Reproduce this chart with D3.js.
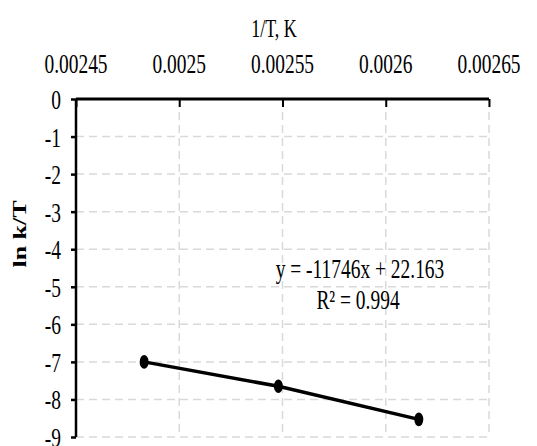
<!DOCTYPE html>
<html><head><meta charset="utf-8">
<script src="https://cdn.jsdelivr.net/npm/d3@7"></script>
<style>body{margin:0;background:#fff}svg{display:block}text{font-family:"Liberation Serif","Times New Roman",serif;fill:#000}</style>
</head><body><svg id="c" width="537" height="446"></svg>
<script>
const invT = [0.002483, 0.002548, 0.002616];
const lnKT = [-7.00, -7.65, -8.53];
const xTicks = [0.00245, 0.0025, 0.00255, 0.0026, 0.00265];
const xTickLabels = ["0.00245", "0.0025", "0.00255", "0.0026", "0.00265"];
const yTicks = [0, -1, -2, -3, -4, -5, -6, -7, -8, -9];
const xTitle = "1/T, K";
const yTitle = "ln k/T";
const eqLines = ["y = -11746x + 22.163", "R² = 0.994"];

const SX = 0.72;
const svg = d3.select("#c");
const x = d3.scaleLinear().domain([0.00245, 0.00265]).range([76, 489]);
const y = d3.scaleLinear().domain([-9, 0]).range([437, 99]);

function txt(g, s, px, py, size, anchor, weight, rot) {
  return g.append("text")
    .attr("transform", `translate(${px},${py}) scale(${SX},1)` + (rot ? ` rotate(${rot})` : ""))
    .attr("text-anchor", anchor).attr("font-size", size)
    .attr("font-weight", weight || "normal").text(s);
}

// gridlines
const grid = svg.append("g").attr("stroke", "#d9d9d9").attr("stroke-width", 1.5).attr("stroke-dasharray", "8,5");
grid.selectAll(".h").data(yTicks.filter(d => d !== 0)).join("line")
  .attr("x1", x(0.00245)).attr("x2", x(0.00265)).attr("y1", d => y(d)).attr("y2", d => y(d));
grid.selectAll(".v").data(xTicks.filter(d => d !== 0.00245)).join("line")
  .attr("x1", d => x(d)).attr("x2", d => x(d)).attr("y1", y(0)).attr("y2", y(-9));

// axes
const yAxis = svg.append("g").attr("transform", `translate(${x(0.00245)},0)`)
  .call(d3.axisLeft(y).tickValues(yTicks).tickSize(5).tickFormat(""));
yAxis.select(".domain").attr("stroke", "#000").attr("stroke-width", 2.5).attr("d", `M0,${y(0)}V${y(-9)}`);
yAxis.selectAll(".tick line").attr("stroke", "#000").attr("stroke-width", 2.5);

const xAxis = svg.append("g").attr("transform", `translate(0,${y(0)})`)
  .call(d3.axisBottom(x).tickValues(xTicks).tickSize(8).tickFormat(""));
xAxis.select(".domain").attr("stroke", "#000").attr("stroke-width", 3).attr("d", `M${x(0.00245)},0H${x(0.00265)}`);
xAxis.selectAll(".tick line").attr("stroke", "#000").attr("stroke-width", 2);

// labels
const lab = svg.append("g");
xTicks.forEach((d, i) => txt(lab, xTickLabels[i], x(d), 73, 27, "middle"));
yTicks.forEach(d => txt(lab, String(d).replace("-", "-"), 61, y(d) + 10, 27, "end"));
txt(lab, xTitle, 274, 37, 25, "middle");
txt(lab, yTitle, 26, 234, 26, "middle", "bold", -90);
txt(lab, eqLines[0], 360, 278, 27, "middle");
txt(lab, eqLines[1], 358, 309, 27, "middle");

// series
const pts = invT.map((v, i) => [v, lnKT[i]]);
svg.append("path").datum(pts)
  .attr("d", d3.line().x(d => x(d[0])).y(d => y(d[1])))
  .attr("fill", "none").attr("stroke", "#000").attr("stroke-width", 3.5);
svg.selectAll(".pt").data(pts).join("ellipse")
  .attr("cx", d => x(d[0])).attr("cy", d => y(d[1])).attr("rx", 4.5).attr("ry", 6.8).attr("fill", "#000");
</script></body></html>
